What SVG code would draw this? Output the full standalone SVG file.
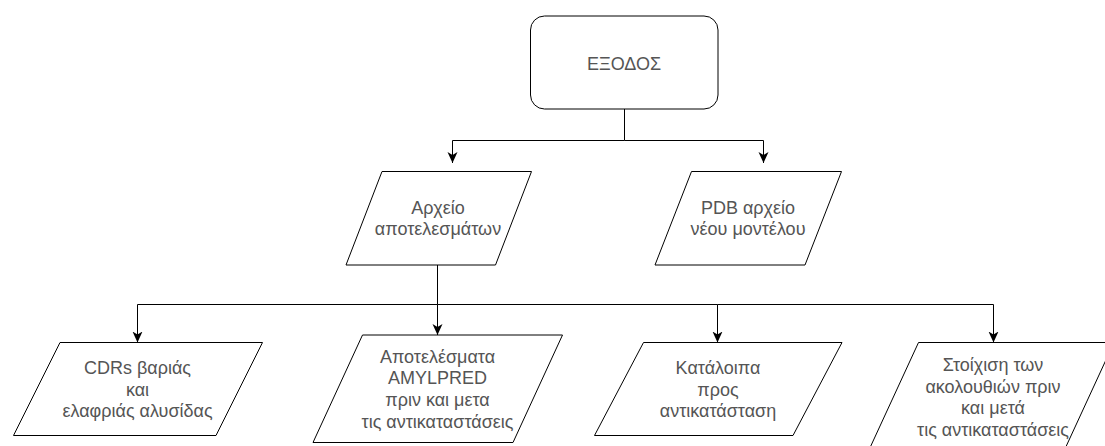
<svg xmlns="http://www.w3.org/2000/svg" width="1105" height="446" viewBox="0 0 1105 446">
<style>
.shape{fill:#fff;stroke:#000;stroke-width:1}
.edge{fill:none;stroke:#000;stroke-width:1}
.lbl{font-family:"Liberation Sans",Arial,sans-serif;font-size:18px;fill:#555;text-anchor:middle}
</style>
<defs>
<marker id="arr" markerWidth="12" markerHeight="12" viewBox="0 0 12 12" refX="11" refY="6" orient="auto" markerUnits="userSpaceOnUse">
<path d="M0,1 L11,6 L0,11 L3,6 Z" fill="#000"/>
</marker>
</defs>
<rect width="1105" height="446" fill="#fff"/>
<g id="connectors">
<path class="edge" d="M624.5,109 V140.5 H452.5 V163" marker-end="url(#arr)"/>
<path class="edge" d="M624.5,140.5 H763.5 V163" marker-end="url(#arr)"/>
<path class="edge" d="M437.5,265 V304.5 H137.5 V342.5" marker-end="url(#arr)"/>
<path class="edge" d="M437.5,304.5 V335" marker-end="url(#arr)"/>
<path class="edge" d="M437.5,304.5 H717.5 V342.5" marker-end="url(#arr)"/>
<path class="edge" d="M717.5,304.5 H993.5 V342.5" marker-end="url(#arr)"/>
</g>
<g id="exodos">
<rect class="shape" x="530.5" y="16" width="187.5" height="93" rx="14" ry="14"/>
<text class="lbl" x="624" y="70">ΕΞΟΔΟΣ</text>
</g>
<g id="arxeio">
<polygon class="shape" points="382,171.5 531.5,171.5 495.5,265 346,265"/>
<text class="lbl" x="438" y="213.5">Αρχείο</text>
<text class="lbl" x="438" y="235">αποτελεσμάτων</text>
</g>
<g id="pdb">
<polygon class="shape" points="691.5,171.5 841.5,171.5 805,265 655,265"/>
<text class="lbl" x="748" y="213.5">PDB αρχείο</text>
<text class="lbl" x="748" y="235">νέου μοντέλου</text>
</g>
<g id="cdrs">
<polygon class="shape" points="60,342.5 262.5,342.5 216,435.5 13.5,435.5"/>
<text class="lbl" x="137.5" y="374">CDRs βαριάς</text>
<text class="lbl" x="137.5" y="395.5">και</text>
<text class="lbl" x="137.5" y="417">ελαφριάς αλυσίδας</text>
</g>
<g id="amylpred">
<polygon class="shape" points="362.5,335 562.5,335 513,442.5 313,442.5"/>
<text class="lbl" x="437.5" y="362.5">Αποτελέσματα</text>
<text class="lbl" x="437.5" y="384">AMYLPRED</text>
<text class="lbl" x="437.5" y="406">πριν και μετα</text>
<text class="lbl" x="437.5" y="427.5">τις αντικαταστάσεις</text>
</g>
<g id="kataloipa">
<polygon class="shape" points="643.5,342.5 842,342.5 793,435.5 594.5,435.5"/>
<text class="lbl" x="718" y="374">Κατάλοιπα</text>
<text class="lbl" x="718" y="395.5">προς</text>
<text class="lbl" x="718" y="417">αντικατάσταση</text>
</g>
<g id="stoixisi">
<polygon class="shape" points="918.5,342.5 1114,342.5 1064,451 868.5,451"/>
<text class="lbl" x="993" y="371">Στοίχιση των</text>
<text class="lbl" x="993" y="392.5">ακολουθιών πριν</text>
<text class="lbl" x="993" y="414">και μετά</text>
<text class="lbl" x="993" y="435.5">τις αντικαταστάσεις</text>
</g>
</svg>
